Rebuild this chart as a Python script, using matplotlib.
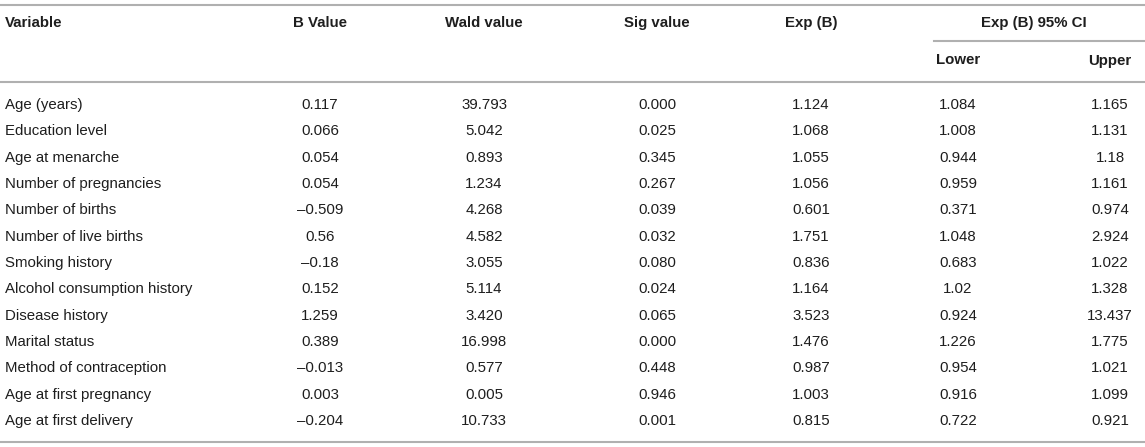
import matplotlib.pyplot as plt
from matplotlib.lines import Line2D

plt.rcParams['font.family'] = ['Liberation Sans', 'DejaVu Sans']

variables = ['Age (years)', 'Education level', 'Age at menarche', 'Number of pregnancies',
             'Number of births', 'Number of live births', 'Smoking history',
             'Alcohol consumption history', 'Disease history', 'Marital status',
             'Method of contraception', 'Age at first pregnancy', 'Age at first delivery']
b_value = ['0.117', '0.066', '0.054', '0.054', '\u20130.509', '0.56', '\u20130.18',
           '0.152', '1.259', '0.389', '\u20130.013', '0.003', '\u20130.204']
wald_value = ['39.793', '5.042', '0.893', '1.234', '4.268', '4.582', '3.055',
              '5.114', '3.420', '16.998', '0.577', '0.005', '10.733']
sig_value = ['0.000', '0.025', '0.345', '0.267', '0.039', '0.032', '0.080',
             '0.024', '0.065', '0.000', '0.448', '0.946', '0.001']
exp_b = ['1.124', '1.068', '1.055', '1.056', '0.601', '1.751', '0.836',
         '1.164', '3.523', '1.476', '0.987', '1.003', '0.815']
ci_lower = ['1.084', '1.008', '0.944', '0.959', '0.371', '1.048', '0.683',
            '1.02', '0.924', '1.226', '0.954', '0.916', '0.722']
ci_upper = ['1.165', '1.131', '1.18', '1.161', '0.974', '2.924', '1.022',
            '1.328', '13.437', '1.775', '1.021', '1.099', '0.921']

headers = ['B Value', 'Wald value', 'Sig value', 'Exp (B)']

W, H = 1145, 447
fig = plt.figure(figsize=(W / 100, H / 100), dpi=100)
fig.patch.set_facecolor('white')

txt_color = '#1e1e1e'
line_color = '#b0b0b0'
fs = 10.8


def px(x, y):
    return x / W, 1 - y / H


def put(x, y, s, ha='center', bold=False):
    fx, fy = px(x, y)
    fig.text(fx, fy, s, ha=ha, va='center', fontsize=fs, color=txt_color,
             fontweight='bold' if bold else 'normal')


def hline(y, x0=0, x1=W):
    (a, b), (c, d) = px(x0, y), px(x1, y)
    fig.add_artist(Line2D([a, c], [b, d], color=line_color, lw=1.5))


# column centres (pixels)
col_x = [320, 484, 657, 811]
lower_x, upper_x = 958, 1110

# rules
hline(4.5)
hline(82)
hline(442)
hline(41, 934, W)

# header
put(5, 23, 'Variable', ha='left', bold=True)
for x, h in zip(col_x, headers):
    put(x, 23, h, bold=True)
put(1034, 23, 'Exp (B) 95% CI', bold=True)
put(lower_x, 60.5, 'Lower', bold=True)
put(upper_x, 60.5, 'Upper', bold=True)

# body
y0, dy = 105, 26.33
for i, name in enumerate(variables):
    y = y0 + i * dy
    put(5, y, name, ha='left')
    for x, col in zip(col_x, [b_value, wald_value, sig_value, exp_b]):
        put(x, y, col[i])
    put(lower_x, y, ci_lower[i])
    put(upper_x, y, ci_upper[i])

fig.savefig('out.png', dpi=100)
